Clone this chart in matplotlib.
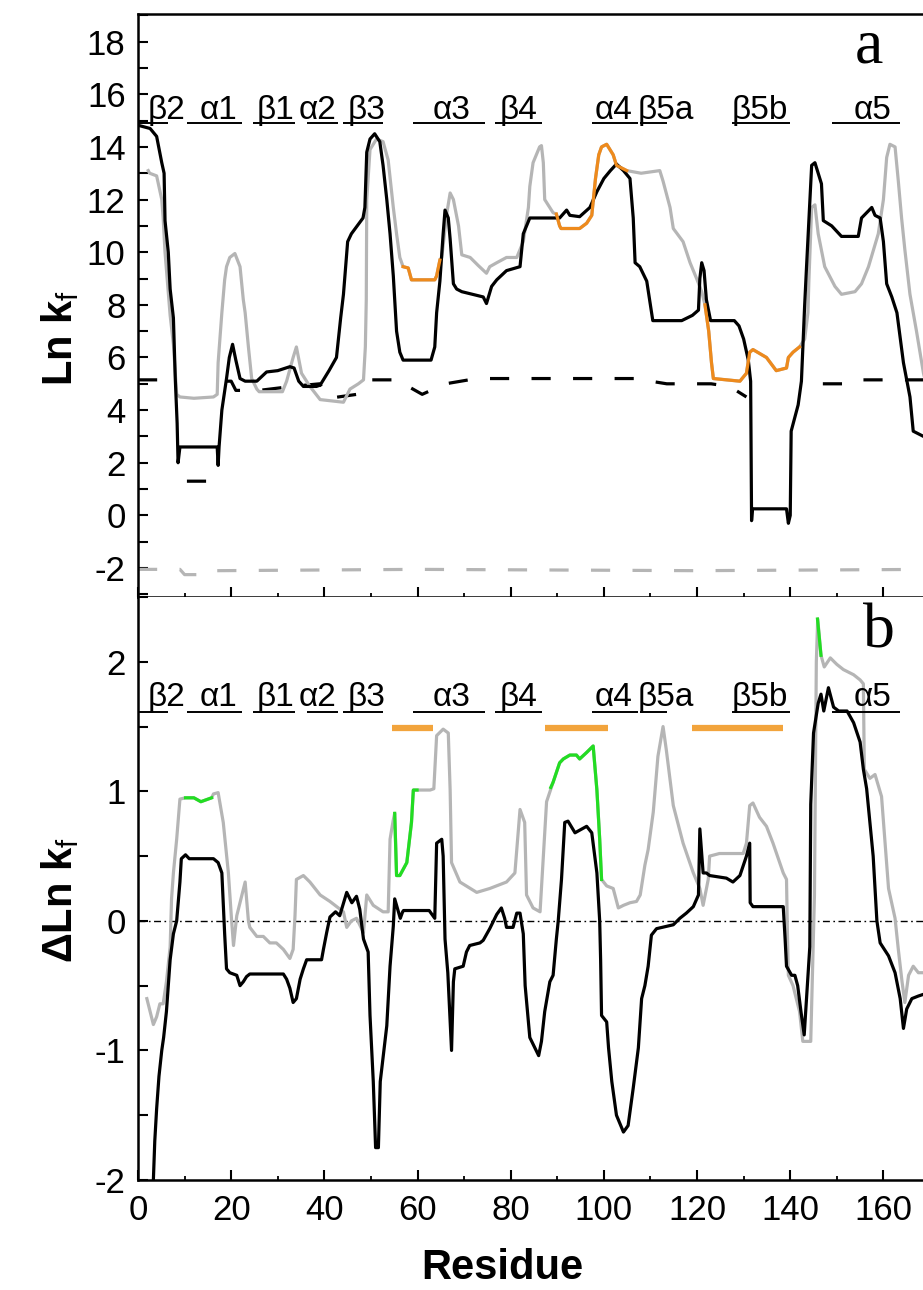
import numpy as np
import matplotlib
matplotlib.use("Agg")
import matplotlib.pyplot as plt
from matplotlib.ticker import MultipleLocator

plt.rcParams['font.family'] = ['Liberation Sans', 'DejaVu Sans']
plt.rcParams['mathtext.fontset'] = 'custom'
plt.rcParams['mathtext.rm'] = 'Liberation Sans'
plt.rcParams['mathtext.it'] = 'Liberation Sans'
plt.rcParams['mathtext.bf'] = 'Liberation Sans:bold'
plt.rcParams['axes.unicode_minus'] = False

# ---------------- data: panel a (Ln kf) ----------------
a_black_res = [0.5, 2.6, 4.0, 5.1, 5.6, 5.8, 6.5, 6.9, 7.6, 8.0, 8.4, 8.6, 9.0, 17.0, 17.2, 17.4, 18.0, 19.0, 19.6, 20.3,
               21.0, 21.9, 23.0, 25.5, 27.6, 30.0, 32.6, 33.5, 34.5, 35.5, 38.3, 39.1, 41.0, 42.6, 43.5, 44.1, 45.0,
               45.8, 48.3, 48.7, 49.1, 49.8, 50.8, 51.9, 52.6, 53.4, 54.1, 54.8, 55.5, 56.2, 56.9, 62.9, 63.7, 64.1,
               64.8, 65.5, 65.9, 66.6, 67.0, 67.7, 68.4, 69.5, 74.1, 74.8, 75.9, 77.0, 79.1, 82.0, 82.7, 84.1, 89.1,
               90.5, 92.0, 92.7, 94.8, 97.0, 98.5, 100.0, 101.4, 102.7, 104.2, 105.6, 106.3, 106.7, 107.7, 109.2,
               109.8, 110.5, 116.7, 119.0, 120.3, 120.6, 121.0, 121.5, 122.0, 122.9, 128.0, 129.0, 130.0, 131.0,
               131.5, 131.7, 131.9, 139.2, 139.6, 140.0, 140.2, 141.7, 142.4, 143.1, 143.5, 144.6, 145.3, 146.7,
               147.1, 148.9, 151.0, 154.6, 155.3, 157.5, 158.2, 159.3, 160.0, 160.7, 161.8, 162.9, 164.3, 165.7,
               166.4, 168.6, 170.0]
a_black_val = [14.8, 14.7, 14.4, 13.4, 13.0, 11.2, 10.0, 8.6, 7.5, 5.2, 3.5, 2.0, 2.6, 2.6, 1.9, 2.6, 4.0, 5.2, 6.0, 6.5,
               5.9, 5.2, 5.1, 5.1, 5.45, 5.5, 5.65, 5.6, 5.1, 4.9, 4.9, 4.95, 5.5, 6.0, 7.5, 8.4, 10.4,
               10.7, 11.3, 11.7, 13.8, 14.3, 14.5, 14.2, 13.3, 12.0, 10.7, 9.1, 7.0, 6.2, 5.9, 5.9, 6.4, 7.7,
               8.9, 10.7, 11.6, 11.3, 10.5, 8.8, 8.6, 8.5, 8.3, 8.05, 8.7, 8.95, 9.3, 9.45, 10.7, 11.3, 11.3,
               11.3, 11.6, 11.4, 11.35, 11.7, 12.3, 12.8, 13.1, 13.35, 13.1, 12.8, 11.3, 9.6, 9.45, 8.9,
               8.2, 7.4, 7.4, 7.6, 7.8, 9.0, 9.6, 9.3, 8.2, 7.4, 7.4, 7.2, 6.7, 5.9,
               5.1, -0.2, 0.25, 0.25, -0.3, 0.0, 3.2, 4.2, 5.1, 8.0, 9.45, 13.3, 13.4, 12.6,
               11.2, 11.0, 10.6, 10.6, 11.3, 11.7, 11.4, 11.3, 10.4, 8.8, 8.3, 7.7, 5.8, 4.5,
               3.2, 3.0, 2.9]

a_gray_res = [2.2, 2.5, 4.0, 5.1, 5.4, 5.8, 6.5, 6.9, 7.6, 8.3, 9.0, 12.0, 16.2, 17.0, 17.2, 18.0, 18.6, 19.0, 19.7,
              20.8, 21.9, 22.6, 23.0, 23.7, 24.4, 25.5, 26.0, 31.0, 31.9, 33.3, 34.0, 35.1, 36.9, 39.1, 44.1, 45.5,
              47.3, 48.4, 48.8, 49.0, 49.1, 49.8, 51.2, 52.6, 53.7, 54.8, 55.5, 56.2, 56.9, 58.0, 58.7, 63.7, 64.1,
              64.8, 65.2, 66.3, 67.0, 67.7, 68.8, 69.5, 71.3, 73.0, 74.8, 75.5, 77.0, 79.1, 81.3, 82.7, 83.8, 84.1,
              84.8, 86.2, 86.6, 87.0, 87.3, 89.1, 89.8, 90.5, 90.8, 94.8, 96.3, 97.4, 98.2, 98.9, 99.5, 100.6, 102.0,
              102.7, 104.9, 108.0, 112.0, 112.7, 114.2, 114.9, 117.0, 118.5, 119.9, 121.0, 121.7, 122.5, 123.1,
              123.5, 129.2, 130.6, 131.3, 132.0, 134.9, 137.0, 139.2, 139.6, 140.6, 142.0, 143.1, 143.8, 144.0,
              144.6, 145.3, 146.0, 147.4, 149.6, 151.0, 153.9, 155.3, 156.8, 158.9, 160.0, 160.7, 161.4, 162.5,
              163.2, 163.9, 164.6, 165.7, 167.1, 168.6, 170.0]
a_gray_val = [13.1, 13.0, 12.9, 12.0, 11.3, 10.0, 8.5, 7.6, 6.5, 4.6, 4.5, 4.45, 4.5, 4.6, 5.8, 7.7, 8.95, 9.45, 9.8,
              9.95, 9.45, 8.2, 7.7, 6.4, 5.2, 4.8, 4.7, 4.7, 5.1, 6.0, 6.4, 5.4, 4.9, 4.4, 4.3, 4.8,
              5.0, 5.15, 6.4, 8.2, 12.0, 13.9, 14.3, 14.2, 13.5, 11.7, 10.7, 9.8, 9.45, 9.4, 8.95, 8.95, 9.1,
              9.7, 9.8, 11.5, 12.25, 12.0, 11.0, 9.9, 9.8, 9.5, 9.2, 9.45, 9.6, 9.8, 9.8, 10.4, 11.7, 12.5,
              13.4, 14.0, 14.05, 13.4, 12.0, 11.5, 11.45, 11.0, 10.9, 10.9, 11.1, 11.4, 12.8, 13.7, 14.0, 14.1, 13.7,
              13.3, 13.1, 13.0, 13.1, 12.7, 11.7, 10.9, 10.4, 9.6, 9.0, 8.5, 8.0, 7.0, 5.8,
              5.2, 5.1, 5.4, 6.2, 6.3, 6.0, 5.5, 5.6, 6.0, 6.2, 6.4, 6.7, 7.7, 8.9,
              11.7, 11.8, 10.7, 9.45, 8.7, 8.4, 8.5, 8.8, 9.45, 10.7, 12.0, 13.6, 14.1, 14.0,
              12.7, 11.3, 10.1, 8.4, 7.0, 5.4, 4.4]

a_orange1_res = [56.9, 58.0, 58.7, 63.7, 64.1, 64.8]
a_orange1_val = [9.45, 9.4, 8.95, 8.95, 9.1, 9.7]
a_orange2_res = [89.8, 90.5, 90.8, 94.8, 96.3, 97.4, 98.2, 98.9, 99.5, 100.6, 102.0, 102.7, 104.9]
a_orange2_val = [11.45, 11.0, 10.9, 10.9, 11.1, 11.4, 12.8, 13.7, 14.0, 14.1, 13.7, 13.3, 13.1]
a_orange3_res = [121.7, 122.5, 123.1, 123.5, 129.2, 130.6, 131.3, 132.0, 134.9, 137.0, 139.2, 139.6, 140.6, 142.0]
a_orange3_val = [8.0, 7.0, 5.8, 5.2, 5.1, 5.4, 6.2, 6.3, 6.0, 5.5, 5.6, 6.0, 6.2, 6.4]

a_ref_black_res = [0, 7, 7.5, 10.5, 15.5, 16, 19, 20, 21, 26, 33, 39, 41, 47, 50, 56, 57, 61, 66, 71, 75, 108, 110,
                   113.5, 118, 123, 127, 130.6, 131.5, 146.5, 147, 151.3, 153, 170]
a_ref_black_val = [5.15, 5.15, np.nan, 1.3, 1.3, np.nan, 5.1, 5.1, 4.75, 4.75, 4.9, 5.0, 4.45, 4.6, 5.15, 5.15, 5.0,
                   4.6, 5.0, 5.15, 5.2, 5.2, 5.1, 5.0, 5.0, 5.0, 4.9, 4.5, np.nan, np.nan, 5.0, 5.0, 5.15, 5.15]
a_ref_gray_res = [0, 9, 10, 16, 17, 60, 120, 170]
a_ref_gray_val = [-2.05, -2.05, -2.25, -2.25, -2.1, -2.05, -2.1, -2.05]

# ---------------- data: panel b (delta Ln kf) ----------------
b_black_res = [2.5, 3.3, 3.6, 4.0, 4.5, 5.1, 5.5, 6.1, 6.9, 7.6, 8.3, 9.0, 9.3, 10.2, 11.0, 16.2, 17.2, 18.0, 18.6,
               19.0, 19.7, 21.2, 21.9, 22.6, 23.3, 24.0, 31.2, 31.9, 32.6, 33.3, 34.0, 34.8, 35.5, 36.2, 39.4, 39.8,
               40.5, 41.2, 42.4, 43.3, 44.8, 45.9, 46.9, 47.6, 48.4, 49.4, 49.8, 50.5, 51.0, 51.6, 52.0, 53.4, 54.1,
               54.8, 55.1, 55.5, 56.3, 56.8, 57.0, 62.5, 63.7, 64.1, 65.2, 65.5, 65.9, 66.5, 67.3, 67.7, 68.0, 69.8,
               70.5, 71.2, 73.4, 74.1, 75.5, 77.0, 78.0, 78.7, 79.1, 80.5, 81.3, 82.0, 82.7, 83.1, 84.1, 86.0, 86.6,
               87.3, 88.4, 89.1, 89.8, 90.2, 90.9, 91.6, 92.3, 93.8, 95.3, 96.3, 97.4, 98.5, 99.1, 99.3, 99.5, 100.6,
               101.0, 101.7, 102.7, 104.2, 105.2, 106.3, 107.4, 108.1, 108.8, 109.5, 110.2, 111.3, 114.9, 116.3,
               117.7, 119.2, 120.3, 120.6, 121.3, 122.0, 122.7, 126.3, 127.7, 129.2, 130.6, 131.3, 131.4, 132.0,
               138.5, 138.9, 139.2, 140.3, 141.0, 141.6, 142.3, 143.0, 144.2, 144.4, 145.0, 146.0, 146.6, 147.2,
               148.2, 149.3, 150.4, 152.2, 153.6, 155.0, 155.7, 156.4, 157.1, 157.8, 158.6, 159.3, 161.1, 162.5,
               163.6, 164.3, 165.0, 166.1, 167.5, 170.0]
b_black_val = [-2.4, -2.0, -1.7, -1.45, -1.2, -1.0, -0.9, -0.7, -0.3, -0.1, 0.0, 0.3, 0.48, 0.51, 0.48, 0.48, 0.45,
               0.37, -0.1, -0.37, -0.4, -0.42, -0.5, -0.47, -0.43, -0.41, -0.41, -0.45, -0.52, -0.63, -0.6, -0.45,
               -0.37, -0.3, -0.3, -0.22, -0.09, 0.03, 0.07, 0.04, 0.22, 0.14, 0.19, 0.09, -0.14, -0.24, -0.73, -1.24,
               -1.75, -1.75, -1.24, -0.81, -0.35, -0.04, 0.17, 0.12, 0.02, 0.07, 0.08, 0.08, 0.02, 0.6, 0.63, 0.5,
               -0.14, -0.4, -1.0, -0.47, -0.37, -0.35, -0.24, -0.19, -0.17, -0.15, -0.06, 0.05, 0.1, 0.02, -0.05,
               -0.05, 0.06, 0.06, -0.1, -0.5, -0.9, -1.04, -0.93, -0.7, -0.47, -0.42, -0.14, 0.0, 0.32, 0.76, 0.77,
               0.68, 0.71, 0.73, 0.68, 0.37, 0.0, -0.3, -0.73, -0.78, -0.98, -1.24, -1.5, -1.63, -1.58, -1.29,
               -0.98, -0.6, -0.5, -0.35, -0.11, -0.06, -0.03, 0.02, 0.06, 0.11, 0.2, 0.71, 0.37, 0.37, 0.35, 0.33,
               0.3, 0.35, 0.5, 0.6, 0.14, 0.11, 0.11, -0.14, -0.35, -0.42, -0.42, -0.5, -0.7, -0.88, -0.2, 0.9,
               1.45, 1.68, 1.75, 1.62, 1.8, 1.65, 1.62, 1.62, 1.53, 1.38, 1.17, 1.02, 0.76, 0.5, 0.0, -0.17, -0.27,
               -0.4, -0.6, -0.83, -0.68, -0.6, -0.58, -0.55]

b_gray_res = [1.9, 2.6, 3.3, 4.0, 4.7, 5.4, 6.1, 6.9, 7.2, 7.6, 8.3, 9.0, 10.2, 12.0, 13.5, 15.8, 16.2, 17.2, 18.3,
              19.4, 20.1, 20.5, 21.2, 22.3, 23.0, 23.7, 24.0, 25.5, 26.9, 28.3, 29.7, 31.2, 32.6, 33.3, 33.7, 34.0,
              35.5, 36.9, 39.1, 41.2, 44.1, 44.8, 45.8, 46.9, 48.4, 49.1, 50.5, 52.6, 53.7, 54.1, 54.8, 55.1, 55.5,
              56.2, 57.7, 58.7, 59.1, 62.7, 63.5, 64.1, 65.5, 66.6, 67.0, 67.3, 69.1, 72.7, 75.5, 79.1, 80.9, 82.0,
              83.0, 83.4, 84.8, 86.3, 87.0, 87.7, 88.8, 89.1, 90.5, 91.3, 92.7, 94.1, 94.8, 96.3, 97.7, 98.5, 99.1,
              99.5, 100.6, 102.0, 103.1, 104.2, 105.6, 107.0, 107.8, 108.8, 109.5, 110.6, 111.6, 112.7, 113.4,
              114.9, 117.0, 119.2, 120.6, 121.3, 122.4, 122.7, 124.8, 129.9, 130.6, 131.3, 132.0, 133.4, 134.9,
              136.3, 138.5, 139.2, 139.4, 139.6, 140.6, 142.0, 142.7, 144.4, 145.2, 145.6, 145.9, 146.6, 147.3,
              148.6, 150.0, 151.4, 153.6, 155.0, 155.7, 155.9, 157.1, 158.2, 159.6, 160.3, 161.1, 162.5, 163.2,
              164.0, 164.6, 165.4, 166.4, 167.5, 170.0]
b_gray_val = [-0.6, -0.7, -0.8, -0.74, -0.64, -0.64, -0.47, -0.2, 0.17, 0.37, 0.63, 0.94, 0.95, 0.95, 0.92, 0.95,
              0.98, 0.99, 0.76, 0.37, 0.0, -0.19, 0.04, 0.2, 0.3, 0.0, -0.05, -0.12, -0.12, -0.17, -0.17, -0.22,
              -0.29, -0.22, 0.04, 0.32, 0.35, 0.3, 0.2, 0.15, 0.07, -0.05, 0.0, 0.02, -0.09, 0.2, 0.12, 0.07, 0.07,
              0.63, 0.78, 0.83, 0.35, 0.35, 0.45, 0.76, 1.01, 1.01, 1.02, 1.43, 1.48, 1.45, 1.01, 0.45, 0.3, 0.22,
              0.25, 0.3, 0.37, 0.86, 0.76, 0.2, 0.1, 0.07, 0.5, 0.92, 1.04, 1.07, 1.22, 1.25, 1.28, 1.28, 1.25, 1.3,
              1.35, 1.01, 0.63, 0.32, 0.27, 0.25, 0.1, 0.12, 0.14, 0.15, 0.2, 0.43, 0.55, 0.84, 1.27, 1.5, 1.32,
              0.89, 0.6, 0.37, 0.25, 0.12, 0.32, 0.5, 0.52, 0.52, 0.6, 0.89, 0.91, 0.8, 0.73,
              0.6, 0.37, 0.32, -0.1, -0.42, -0.5, -0.7, -0.93, -0.93, 0.2, 2.0, 2.33, 2.05, 1.96,
              2.03, 1.98, 1.94, 1.9, 1.86, 1.83, 1.17, 1.1, 1.13, 0.96, 0.63, 0.25, 0.02, -0.22,
              -0.47, -0.63, -0.42, -0.35, -0.4, -0.4]

b_green1_res = [10.2, 12.0, 13.5, 15.8]
b_green1_val = [0.95, 0.95, 0.92, 0.95]
b_green2_res = [55.1, 55.5, 56.2, 57.7, 58.7, 59.1, 59.9]
b_green2_val = [0.83, 0.35, 0.35, 0.45, 0.76, 1.01, 1.01]
b_green3_res = [88.6, 89.1, 90.5, 91.3, 92.7, 94.1, 94.8, 96.3, 97.7, 98.5, 99.1, 99.5]
b_green3_val = [1.03, 1.07, 1.22, 1.25, 1.28, 1.28, 1.25, 1.3, 1.35, 1.01, 0.63, 0.32]
b_green4_res = [145.85, 146.6]
b_green4_val = [2.33, 2.05]

b_orange_start = [54.5, 87.3, 119.0]
b_orange_end = [63.3, 100.9, 138.4]
b_orange_level = 1.49

# secondary-structure labels
ss_labels = ['β2', 'α1', 'β1', 'α2', 'β3', 'α3', 'β4', 'α4', 'β5a', 'β5b', 'α5']
ss_text_x = [6.1, 17.2, 29.5, 38.6, 49.0, 67.3, 81.7, 102.0, 113.4, 133.5, 157.7]
ss_start = [0.0, 10.5, 24.7, 36.3, 44.0, 59.0, 76.6, 97.4, 107.7, 127.5, 149.0]
ss_end = [6.4, 22.3, 33.7, 42.9, 52.6, 74.5, 86.7, 107.3, 113.5, 140.0, 163.5]

x_ticks = [0, 20, 40, 60, 80, 100, 120, 140, 160]
a_yticks = [-2, 0, 2, 4, 6, 8, 10, 12, 14, 16, 18]
b_yticks = [-2, -1, 0, 1, 2]

# ---------------- figure ----------------
W, H = 923, 1290
fig = plt.figure(figsize=(W / 100, H / 100), dpi=100)
ax_left = 138 / W
ax_w = (930 - 138) / W
ax_h = 583 / H
ax1 = fig.add_axes([ax_left, 1 - 597 / H, ax_w, ax_h])
ax2 = fig.add_axes([ax_left, 1 - 1180 / H, ax_w, ax_h])

GRAY = '#b5b5b5'
ORANGE = '#ee8a1c'
ORANGE_BAR = '#f2a43c'
GREEN = '#22dd22'
LW = 2.3

# panel a
ax1.plot(a_ref_gray_res, a_ref_gray_val, color=GRAY, lw=LW, ls=(0, (6, 7)))
ax1.plot(a_ref_black_res, a_ref_black_val, color='black', lw=LW, ls=(0, (6, 7)))
ax1.plot(a_gray_res, a_gray_val, color=GRAY, lw=LW)
ax1.plot(a_black_res, a_black_val, color='black', lw=LW)
for rr, vv in [(a_orange1_res, a_orange1_val), (a_orange2_res, a_orange2_val), (a_orange3_res, a_orange3_val)]:
    ax1.plot(rr, vv, color=ORANGE, lw=LW)

# panel b
ax2.axhline(0, color='black', lw=1.0, ls=(0, (5, 2.5, 1.2, 2.5)))
ax2.plot(b_gray_res, b_gray_val, color=GRAY, lw=LW)
ax2.plot(b_black_res, b_black_val, color='black', lw=LW)
for rr, vv in [(b_green1_res, b_green1_val), (b_green2_res, b_green2_val),
               (b_green3_res, b_green3_val), (b_green4_res, b_green4_val)]:
    ax2.plot(rr, vv, color=GREEN, lw=LW)
ax2.hlines([b_orange_level] * len(b_orange_start), b_orange_start, b_orange_end, color=ORANGE_BAR, lw=4.5)

# secondary structure annotations
for ax, ybase, yline in [(ax1, 15.07, 14.92), (ax2, 1.655, 1.615)]:
    for lab, tx in zip(ss_labels, ss_text_x):
        ax.text(tx, ybase, lab, ha='center', va='baseline', fontsize=24, color='black')
    ax.hlines([yline] * len(ss_start), ss_start, ss_end, color='black', lw=1.4)

ax1.text(157, 17.2, 'a', family='Liberation Serif', fontsize=46, ha='center', va='baseline')
ax2.text(159, 2.11, 'b', family='Liberation Serif', fontsize=46, ha='center', va='baseline')

# axes styling
for ax in (ax1, ax2):
    ax.set_xlim(0, 170)
    ax.set_xticks(x_ticks)
    ax.xaxis.set_minor_locator(MultipleLocator(10))
    for s in ax.spines.values():
        s.set_linewidth(1.8)
    ax.tick_params(which='major', direction='in', length=7, width=1.5, labelsize=25, pad=9,
                   top=False, right=False)
    ax.tick_params(axis='x', which='minor', direction='in', length=3, width=1.3, top=False)
    ax.tick_params(axis='y', which='minor', direction='in', length=7, width=1.5, right=False)

ax1.set_ylim(-3.1, 19.05)
ax1.set_yticks(a_yticks)
ax1.yaxis.set_minor_locator(MultipleLocator(1))
ax1.tick_params(axis='x', labelbottom=False)

ax2.set_ylim(-2, 2.5)
ax2.set_yticks(b_yticks)
ax2.yaxis.set_minor_locator(MultipleLocator(0.5))
ax2.set_xticklabels([str(t) for t in x_ticks])
ax2.tick_params(axis='x', pad=10)
ax2.spines['top'].set_visible(False)

fig.text(60 / W, 1 - 338 / H, r'$\mathbf{Ln\ k}_{\mathrm{f}}$', rotation=90, ha='center', va='center', fontsize=30)
fig.text(60 / W, 1 - 900 / H, r'$\mathbf{\Delta Ln\ k}_{\mathrm{f}}$', rotation=90, ha='center', va='center', fontsize=30)
fig.text(502 / W, 1 - 1268 / H, 'Residue', ha='center', va='center', fontsize=30, fontweight='bold')

fig.savefig('out.png', dpi=100)
